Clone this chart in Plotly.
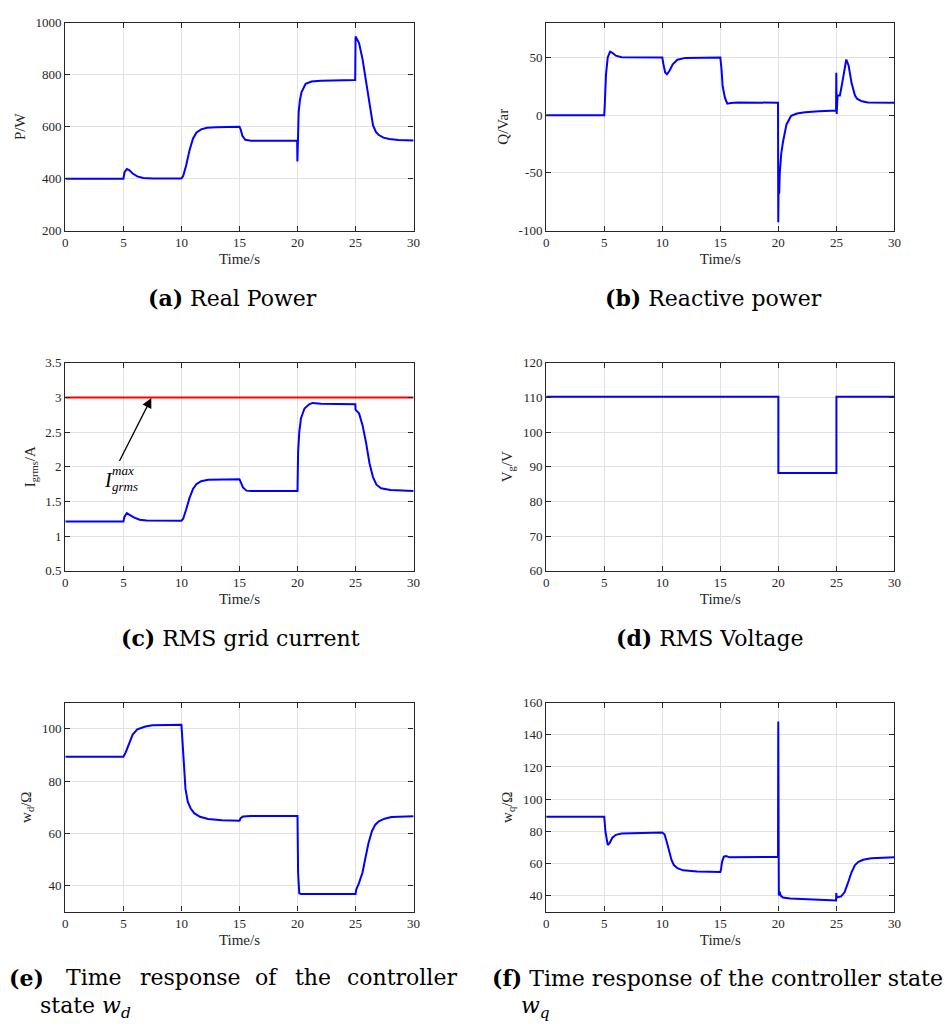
import plotly.graph_objects as go

W, H = 945, 1030

# ---------------- data ----------------
t_p = [0, 5.0, 5.1, 5.3, 5.5, 5.8, 6.2, 6.7, 7.5, 10.0, 10.15, 10.4, 10.7, 11.0, 11.3, 11.7, 12.2, 13.0,
       15.0, 15.1, 15.25, 15.5, 16.0, 19.97, 19.99, 20.05, 20.1, 20.2, 20.34, 20.7, 21.2, 22.0, 24.97,
       25.0, 25.3, 25.6, 25.9, 26.2, 26.5, 26.75, 27.0, 27.4, 27.9, 28.7, 30.0]
p_w = [400, 400, 425, 437, 433, 420, 409, 403, 401, 401, 410, 450, 510, 555, 578, 590, 596, 598,
       600, 590, 565, 550, 546, 546, 466, 600, 656, 700, 732, 765, 774, 777, 780,
       947, 922, 860, 770, 682, 606, 580, 568, 558, 553, 549, 547]

t_q = [0, 5.0, 5.05, 5.15, 5.3, 5.5, 5.7, 6.0, 6.5, 10.0, 10.1, 10.25, 10.4, 10.6, 10.9, 11.3, 12.0,
       15.0, 15.1, 15.2, 15.4, 15.6, 15.9, 16.5, 19.97, 19.99, 20.03, 20.07, 20.12, 20.25, 20.4, 20.7,
       21.1, 21.6, 22.3, 23.5, 24.97, 24.99, 25.02, 25.1, 25.3, 25.5, 25.7, 25.85, 26.05, 26.3, 26.6,
       26.8, 27.2, 27.7, 30.0]
q_var = [0, 0, 10, 35, 50, 55, 54, 51.5, 50.2, 50, 44, 37, 35.5, 38, 44, 48, 49.6,
         50, 40, 25, 15, 10, 10.5, 11, 10.8, -92.6, -51, -68, -50, -33, -23, -8,
         -0.5, 1.5, 2.6, 3.4, 4.1, 36.8, 1, 17, 17, 28, 42, 48.2, 43, 28, 17,
         14, 12, 11, 10.8]

t_i = [0, 5.0, 5.1, 5.3, 5.5, 5.9, 6.4, 7.0, 10.0, 10.15, 10.4, 10.7, 11.0, 11.3, 11.7, 12.3, 15.0,
       15.1, 15.3, 15.6, 16.0, 20.0, 20.05, 20.15, 20.3, 20.6, 21.0, 21.3, 22.0, 24.98, 25.0, 25.3,
       25.6, 25.9, 26.2, 26.5, 26.8, 27.2, 28.0, 30.0]
i_grms = [1.21, 1.21, 1.28, 1.33, 1.31, 1.27, 1.235, 1.225, 1.22, 1.25, 1.38, 1.55, 1.68, 1.75, 1.79, 1.81, 1.82,
          1.78, 1.70, 1.655, 1.65, 1.65, 2.2, 2.5, 2.7, 2.84, 2.9, 2.92, 2.91, 2.9, 2.82, 2.77,
          2.6, 2.35, 2.05, 1.85, 1.74, 1.69, 1.665, 1.65]
t_limit = [0, 30]
i_limit = [3.0, 3.0]

t_v = [0, 20.0, 20.0, 25.0, 25.0, 30.0]
v_g = [110.2, 110.2, 88.2, 88.2, 110.2, 110.2]

t_wd = [0, 5.0, 5.2, 5.5, 5.8, 6.2, 6.9, 7.5, 10.0, 10.08, 10.2, 10.35, 10.55, 10.8, 11.1, 11.6, 12.3,
        13.5, 15.0, 15.1, 15.3, 16.0, 20.0, 20.05, 20.15, 20.3, 25.0, 25.05, 25.3, 25.6, 25.8, 26.1,
        26.4, 26.7, 27.0, 27.5, 28.1, 30.0]
w_d = [89.3, 89.3, 91, 94.8, 97.8, 99.8, 100.9, 101.4, 101.6, 96, 85, 77, 72, 69.5, 67.7, 66.3, 65.5,
       65.0, 64.8, 65.8, 66.4, 66.6, 66.6, 45, 37, 36.8, 36.8, 38.3, 41, 45, 49.5, 56,
       60.7, 63.3, 64.6, 65.6, 66.2, 66.5]

t_wq = [0, 5.0, 5.1, 5.2, 5.3, 5.45, 5.7, 6.0, 6.5, 10.0, 10.2, 10.4, 10.6, 10.8, 11.0, 11.3, 11.8,
        13.0, 15.0, 15.05, 15.15, 15.3, 15.5, 15.8, 19.97, 19.99, 20.04, 20.1, 20.2, 20.4, 21.0, 22.5,
        24.97, 24.99, 25.03, 25.4, 25.7, 26.0, 26.3, 26.6, 26.9, 27.3, 28.0, 30.0]
w_q = [89.1, 89.1, 80, 74, 71.5, 72.5, 76, 77.8, 78.6, 79.2, 78, 73, 67, 62, 59, 57, 55.7,
       55.0, 54.7, 56, 61, 64.2, 64.6, 63.8, 64.0, 148.3, 40, 42.5, 40, 38.8, 38.2, 37.6,
       37.0, 41.6, 38.8, 39.5, 42, 48, 54.5, 59, 61, 62.3, 63.2, 63.9]

x_ticks = [0, 5, 10, 15, 20, 25, 30]
ticks_p = [200, 400, 600, 800, 1000]
ticks_q = [-100, -50, 0, 50]
ticks_i = [0.5, 1, 1.5, 2, 2.5, 3, 3.5]
ticks_v = [60, 70, 80, 90, 100, 110, 120]
ticks_wd = [40, 60, 80, 100]
ticks_wq = [40, 60, 80, 100, 120, 140, 160]

# ---------------- layout helpers ----------------
BLUE = "#0000ff"
INK = "#262626"
SERIF = "Liberation Serif"
CAP = "DejaVu Serif"

# panel boxes in pixels: (left, right, top, bottom)
boxes = [
    (63, 415, 16, 227),
    (549, 901, 16, 227),
    (63, 415, 361, 572),
    (549, 901, 361, 572),
    (63, 415, 706, 918),
    (549, 901, 706, 918),
]

fig = go.Figure()

series = [
    (t_p, p_w), (t_q, q_var), (t_i, i_grms), (t_v, v_g), (t_wd, w_d), (t_wq, w_q)
]
for k, (tx, vy) in enumerate(series):
    sfx = "" if k == 0 else str(k + 1)
    fig.add_trace(go.Scatter(x=tx, y=vy, mode="lines", line=dict(color=BLUE, width=2),
                             xaxis="x" + sfx, yaxis="y" + sfx, showlegend=False,
                             hoverinfo="x+y"))
    if k == 2:
        fig.add_trace(go.Scatter(x=t_limit, y=i_limit, mode="lines",
                                 line=dict(color="#ff0000", width=2),
                                 xaxis="x3", yaxis="y3", showlegend=False))

y_specs = [
    ([200, 1000], ticks_p, [str(v) for v in ticks_p], "P/W"),
    ([-100, 80], ticks_q, ["-100", "-50", "0", "50"], "Q/Var"),
    ([0.5, 3.5], ticks_i, ["0.5", "1", "1.5", "2", "2.5", "3", "3.5"], "I<sub>grms</sub>/A"),
    ([60, 120], ticks_v, [str(v) for v in ticks_v], "V<sub>g</sub>/V"),
    ([30, 110], ticks_wd, [str(v) for v in ticks_wd], "w<sub>d</sub>/Ω"),
    ([30, 160], ticks_wq, [str(v) for v in ticks_wq], "w<sub>q</sub>/Ω"),
]

common = dict(showline=True, linecolor=INK, linewidth=1.3, mirror="allticks",
              ticks="inside", ticklen=5, tickcolor=INK, tickwidth=1,
              showgrid=True, gridcolor="#e2e2e2", gridwidth=1.2, zeroline=False,
              tickfont=dict(family=SERIF, size=13, color=INK))

layout = dict(width=W, height=H, margin=dict(l=0, r=0, t=0, b=0),
              plot_bgcolor="white", paper_bgcolor="white", showlegend=False)

for k, (l, r, t, b) in enumerate(boxes):
    sfx = "" if k == 0 else str(k + 1)
    yr, tv, tt, ttl = y_specs[k]
    layout["xaxis" + sfx] = dict(common, domain=[l / W, r / W], range=[0, 30],
                                 tickvals=x_ticks, ticktext=[str(v) for v in x_ticks],
                                 anchor="y" + sfx,
                                 title=dict(text="Time/s", standoff=4,
                                            font=dict(family=SERIF, size=15, color=INK)))
    layout["yaxis" + sfx] = dict(common, domain=[1 - b / H, 1 - t / H], range=yr,
                                 tickvals=tv, ticktext=tt, anchor="x" + sfx,
                                 title=dict(text=ttl, standoff=6,
                                            font=dict(family=SERIF, size=15, color=INK)))

fig.update_layout(**layout)

# arrow and label in panel (c)
fig.add_annotation(x=7.41, y=2.99, ax=4.6, ay=2.06, xref="x3", yref="y3", axref="x3", ayref="y3",
                   showarrow=True, arrowhead=2, arrowsize=1.5, arrowwidth=1.3, arrowcolor="black",
                   text="")
fig.add_annotation(x=3.75, y=1.81, xref="x3", yref="y3", showarrow=False,
                   text="<i>I</i>", font=dict(family=SERIF, size=20, color="black"))
fig.add_annotation(x=5.0, y=1.95, xref="x3", yref="y3", showarrow=False,
                   text="<i>max</i>", font=dict(family=SERIF, size=13, color="black"))
fig.add_annotation(x=5.1, y=1.72, xref="x3", yref="y3", showarrow=False,
                   text="<i>grms</i>", font=dict(family=SERIF, size=13, color="black"))

# captions
def cap(text, px, py, anchor="center", size=22):
    fig.add_annotation(x=px / W, y=1 - py / H, xref="paper", yref="paper", showarrow=False,
                       xanchor=anchor, yanchor="middle", text=text,
                       font=dict(family=CAP, size=size, color="black"))

cap("<b>(a)</b> Real Power", 232, 295)
cap("<b>(b)</b> Reactive power", 718, 295)
cap("<b>(c)</b> RMS grid current", 240, 640)
cap("<b>(d)</b> RMS Voltage", 715, 640)

# (e) justified first line, word by word
for word, cx in [("<b>(e)</b>", 24), ("Time", 92), ("response", 189), ("of", 266),
                 ("the", 313), ("controller", 403)]:
    cap(word, cx, 985)
cap("state <i>w</i><sub><i>d</i></sub>", 35, 1015, anchor="left")

cap("<b>(f)</b> Time response of the controller state", 492, 985, anchor="left")
cap("<i>w</i><sub><i>q</i></sub>", 522, 1015, anchor="left")

fig.write_html("out.html")
